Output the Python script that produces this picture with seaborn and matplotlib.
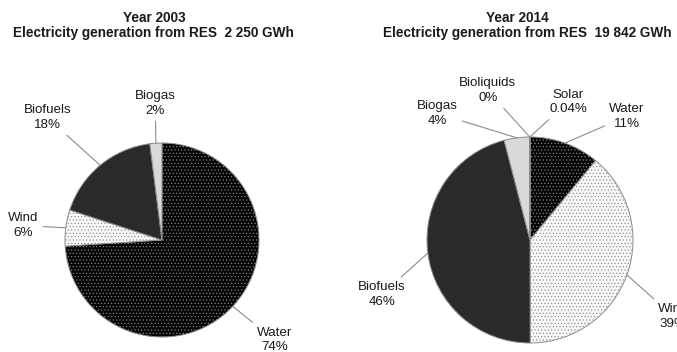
import numpy as np
import matplotlib
matplotlib.use("Agg")
import matplotlib.pyplot as plt
import seaborn as sns

sns.set_style("white")
plt.rcParams["font.family"] = ["Liberation Sans", "DejaVu Sans"]
plt.rcParams["hatch.linewidth"] = 0.45

# Electricity generation from renewable sources, share by source
sources_2003 = ["Water", "Wind", "Biofuels", "Biogas"]
shares_2003 = [74, 6, 18, 2]
labels_2003 = ["74%", "6%", "18%", "2%"]
total_2003 = "2 250"

sources_2014 = ["Water", "Wind", "Biofuels", "Biogas", "Bioliquids", "Solar"]
shares_2014 = [11, 39, 46, 4, 0.0, 0.04]
labels_2014 = ["11%", "39%", "46%", "4%", "0%", "0.04%"]
total_2014 = "19 842"

# fill / hatch per source
styles = {
    "Water": dict(fc="#050505", hatch="....."),
    "Wind": dict(fc="#f7f7f7", hatch="....."),
    "Biofuels": dict(fc="#2a2a2a", hatch=None),
    "Biogas": dict(fc="#d9d9d9", hatch=None),
    "Bioliquids": dict(fc="#bfbfbf", hatch=None),
    "Solar": dict(fc="#808080", hatch=None),
}

# label placement relative to pie centre, in radius units
label_pos_2003 = {
    "Water": (1.16, -1.03), "Wind": (-1.43, 0.15),
    "Biofuels": (-1.18, 1.26), "Biogas": (-0.07, 1.41),
}
label_pos_2014 = {
    "Water": (0.94, 1.20), "Wind": (1.39, -0.74), "Biofuels": (-1.44, -0.53),
    "Biogas": (-0.90, 1.23), "Bioliquids": (-0.41, 1.45), "Solar": (0.37, 1.34),
}

W, H = 677, 352
fig = plt.figure(figsize=(W / 100, H / 100), dpi=100)


def draw_pie(ax, sources, shares, labels, label_pos, cx, cy, r, ax_w):
    wedges, _ = ax.pie(shares, startangle=90, counterclock=False,
                       wedgeprops=dict(edgecolor="#8c8c8c", linewidth=0.7))
    for w, src in zip(wedges, sources):
        st = styles[src]
        w.set_facecolor(st["fc"])
        if st["hatch"]:
            w.set_hatch(st["hatch"])
    # map the axes so one pixel is the same in x and y
    ax.set_aspect("auto")
    ax.set_xlim(-cx / r, (ax_w - cx) / r)
    ax.set_ylim((cy - H) / r, cy / r)
    ax.axis("off")
    for w, src, lab in zip(wedges, sources, labels):
        mid = np.deg2rad((w.theta1 + w.theta2) / 2)
        edge = (np.cos(mid), np.sin(mid))
        tx, ty = label_pos[src]
        ax.annotate(f"{src}\n{lab}", xy=edge, xytext=(tx, ty),
                    ha="center", va="center", fontsize=9.6, color="#1a1a1a",
                    linespacing=1.3, annotation_clip=False,
                    arrowprops=dict(arrowstyle="-", color="#8c8c8c", lw=0.8,
                                    shrinkA=1, shrinkB=0))


ax1 = fig.add_axes([0, 0, 338 / W, 1])
draw_pie(ax1, sources_2003, shares_2003, labels_2003, label_pos_2003,
         162, 240, 97, 338)

ax2 = fig.add_axes([338 / W, 0, 339 / W, 1])
draw_pie(ax2, sources_2014, shares_2014, labels_2014, label_pos_2014,
         192, 240, 103, 339)


def title(x, y, s):
    fig.text(x / W, 1 - y / H, s, ha="center", va="center",
             fontsize=9.8, fontweight="bold", color="#1a1a1a")


title(154, 18, "Year 2003")
title(153, 33, f"Electricity generation from RES  {total_2003} GWh")
title(517, 18, "Year 2014")
title(527, 33, f"Electricity generation from RES  {total_2014} GWh")

fig.savefig("out.png", dpi=100, facecolor="white")
